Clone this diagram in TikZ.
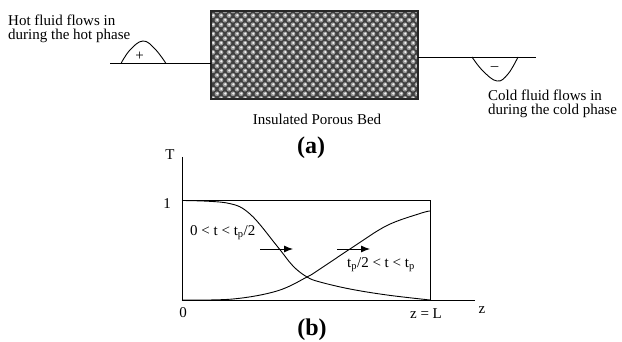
\documentclass[tikz,border=0pt]{standalone}
\usepackage{fontspec}
\setmainfont{Liberation Serif}
\usepackage{amsmath}
\usepackage{xcolor}
\usetikzlibrary{arrows.meta}

\tikzset{
    label/.style={inner sep=0,font=\fontsize{15}{16}\selectfont},
    caption/.style={inner sep=0,font=\fontsize{24}{24}\selectfont\bfseries},
    line/.style={line width=0.9pt},
    flow/.style={line,-{Latex[length=9pt,width=7pt]}},
}

\begin{document}
\begin{tikzpicture}[x=1pt,y=-1pt]
    \useasboundingbox (0,0) rectangle (622,342);

    \coordinate (BedA) at (211,11);
    \coordinate (BedB) at (418,99);
    \coordinate (InL) at (110,63.5);
    \coordinate (InR) at (211,63.5);
    \coordinate (OutL) at (418,57);
    \coordinate (OutR) at (536,57);

    \begin{scope}
        \clip (BedA) rectangle (BedB);
        \fill[black!75] (BedA) rectangle (BedB);
        \foreach \row in {0,...,19} {
            \foreach \col in {0,...,26} {
                \pgfmathsetmacro{\px}{209+8*\col+4*mod(\row,2)}
                \pgfmathsetmacro{\py}{11+4.6*\row}
                \fill[black!40] (\px,\py) circle (2.4);
                \fill[black!5] (\px+0.3,\py-0.3) circle (1.2);
            }
        }
    \end{scope}
    \draw[line width=1.2pt,black!85] (BedA) rectangle (BedB);

    \draw[line] (InL) -- (InR);
    \draw[line] (OutL) -- (OutR);
    \draw[line] plot[smooth,tension=0.7] coordinates {(121,63.5) (130,50) (143,41) (155,49) (166,63.5)};
    \draw[line] plot[smooth,tension=0.7] coordinates {(472,57) (483,71) (497,81) (508,74) (518,57)};

    \node[label,anchor=west] (hot) at (8,20) {Hot fluid flows in};
    \node[label,anchor=west] (hotb) at (8,36) {during the hot phase};
    \node[label] (plus) at (139.5,56) {+};
    \node[label] (minus) at (494.5,69) {--};
    \node[label,anchor=west] (cold) at (488,95) {Cold fluid flows in};
    \node[label,anchor=west] (coldb) at (488,111) {during the cold phase};
    \node[label] (bed) at (317,119) {Insulated Porous Bed};
    \node[caption] (a) at (311,148) {(a)};

    \coordinate (O) at (182,300);
    \coordinate (T) at (182,157);
    \coordinate (Z) at (475,300);
    \coordinate (H) at (182,200.5);
    \coordinate (K) at (430,200.5);
    \coordinate (L) at (430,300);

    \draw[line] (T) -- (O) -- (Z);
    \draw[line] (H) -- (K) -- (L);
    \draw[line] plot[smooth,tension=0.6] coordinates {(182,200.5) (227,203) (250,214) (277,246) (293,266) (307,277) (320,282) (350,289) (387,295) (430,300)};
    \draw[line] plot[smooth,tension=0.6] coordinates {(182,300) (233,299) (277,291) (307,277) (320,269) (353,247) (387,225.5) (420,213.5) (430,211)};

    \coordinate (ArrA) at (260,249);
    \coordinate (ArrB) at (293,249);
    \coordinate (ArrC) at (337,249);
    \coordinate (ArrD) at (370,249);
    \draw[flow] (ArrA) -- (ArrB);
    \draw[flow] (ArrC) -- (ArrD);

    \node[label] (Tl) at (170,155) {T};
    \node[label] (one) at (167,204) {1};
    \node[label] (zero) at (183,313) {0};
    \node[label] (zL) at (426,314) {z = L};
    \node[label] (zl) at (482,310) {z};
    \node[label,anchor=west] (first) at (190,233) {0 < t < t$_{\text{p}}$/2};
    \node[label,anchor=west] (second) at (347,265) {t$_{\text{p}}$/2 < t < t$_{\text{p}}$};
    \node[caption] (b) at (312,330) {(b)};
\end{tikzpicture}
\end{document}
